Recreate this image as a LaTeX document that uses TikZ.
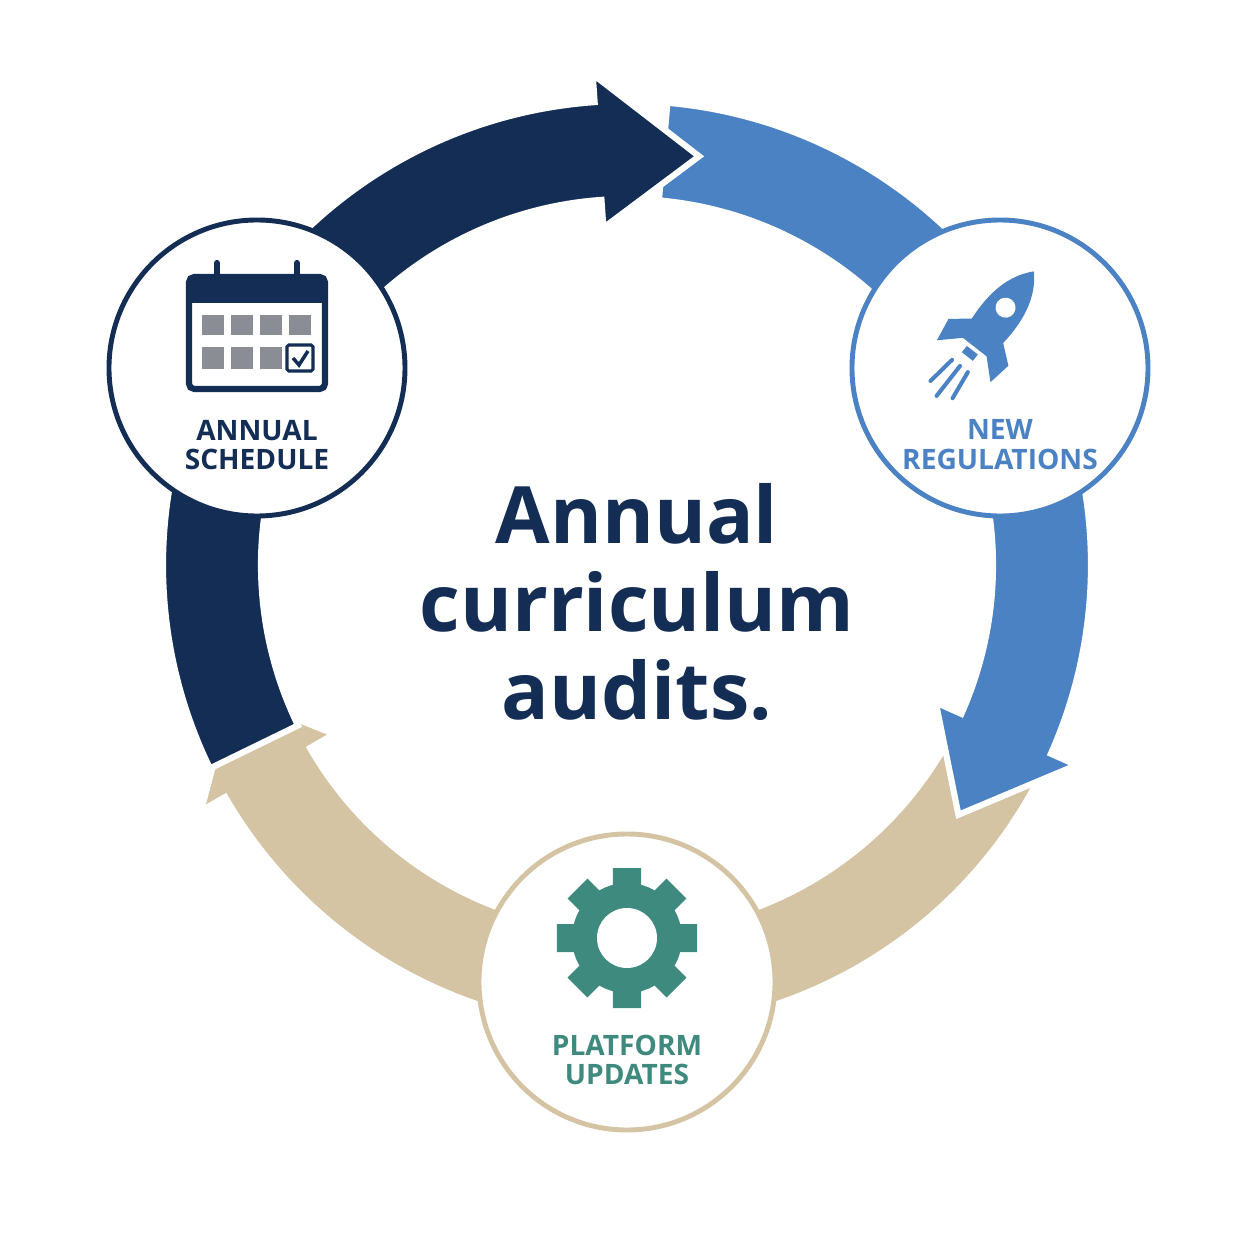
\documentclass[tikz,border=0pt]{standalone}
\usepackage{fontspec}
\setmainfont{Open Sans}
\definecolor{navy}{HTML}{132D55}
\definecolor{cblue}{HTML}{4A82C4}
\definecolor{tan}{HTML}{D5C4A3}
\definecolor{teal}{HTML}{3F8A7E}
\definecolor{sq}{HTML}{8A8E94}
\tikzset{
  arr/.style={draw=white,line width=3.5pt,line join=miter},
  stage/.style={circle,draw=#1,line width=2.8pt,fill=white,minimum size=296*0.02cm,inner sep=0},
  lbl/.style={font=\fontsize{16}{19}\selectfont\bfseries,align=center,text=#1},
}
\newcommand{\ringarrow}[4]{% start, headbase, tip, color
  \fill[#4,arr] (#1:464) arc[start angle=#1,end angle=#2,radius=464] -- (#2:492) -- (#3:415) -- (#2:338) -- (#2:366) arc[start angle=#2,end angle=#1,radius=366] -- cycle;}
\begin{document}
\begin{tikzpicture}[x=0.02cm,y=0.02cm]
\useasboundingbox (-627,-689) rectangle (627,565);
\coordinate (O) at (0,0);
\ringarrow{-28}{-150}{-162}{tan}
\ringarrow{85}{-24}{-37}{cblue}
\ringarrow{206}{94}{80}{navy}
\node[stage=navy] (s1) at (-370,197) {};
\node[stage=cblue] (s2) at (373,197) {};
\node[stage=tan] (s3) at (0,-417) {};
% calendar
\begin{scope}[shift={(-370,232)}]
  \draw[navy,line width=3.5pt,rounded corners=3pt,fill=white] (-68,-56) rectangle (68,56);
  \fill[navy,rounded corners=3pt] (-70,30) rectangle (70,58);
  \fill[navy] (-70,30) rectangle (70,40);
  \foreach \x in {-40,40}{\draw[navy,line width=3.5pt,line cap=round] (\x,45) -- (\x,70);}
  \foreach \x in {-44,-15,14,43}{\fill[sq] (\x-11,-2) rectangle (\x+11,18);}
  \foreach \x in {-44,-15,14}{\fill[sq] (\x-11,-36) rectangle (\x+11,-14);}
  \draw[navy,line width=1.8pt,rounded corners=1pt,fill=white] (30,-38) rectangle (56,-12);
  \draw[navy,line width=2pt] (36,-25) -- (42,-32) -- (51,-18);
\end{scope}
\node[lbl=navy] (t1) at (-370,120) {ANNUAL\\[-2pt]SCHEDULE};
% rocket
\begin{scope}[shift={(365,240)},rotate=-38]
  \fill[cblue] (0,68) .. controls (22,45) and (24,10) .. (17,-28) -- (-17,-28) .. controls (-24,10) and (-22,45) .. (0,68) -- cycle;
  \fill[white] (0,22) circle (10);
  \fill[cblue] (-17,-5) -- (-38,-22) -- (-34,-46) -- (-15,-28) -- cycle;
  \fill[cblue] (17,-5) -- (38,-22) -- (34,-46) -- (15,-28) -- cycle;
  \fill[cblue] (-7,-32) rectangle (7,-40);
  \draw[cblue,line width=2.3pt,line cap=round] (-10,-52) -- (-14,-82) (0,-52) -- (0,-90) (10,-52) -- (14,-82);
\end{scope}
\node[lbl=cblue] (t2) at (373,120) {NEW\\[-2pt]REGULATIONS};
% gear
\begin{scope}[shift={(0,-373)}]
  \fill[teal] \foreach \a in {0,45,...,315}{[rotate=\a] (-14,48) rectangle (14,70)};
  \fill[teal] (0,0) circle (55);
  \fill[white] (0,0) circle (30);
\end{scope}
\node[lbl=teal] (t3) at (0,-495) {PLATFORM\\[-2pt]UPDATES};
\node[font=\fontsize{45}{50}\selectfont\bfseries,text=navy,align=center] (title) at (10,-37) {Annual\\curriculum\\audits.};
\end{tikzpicture}
\end{document}
